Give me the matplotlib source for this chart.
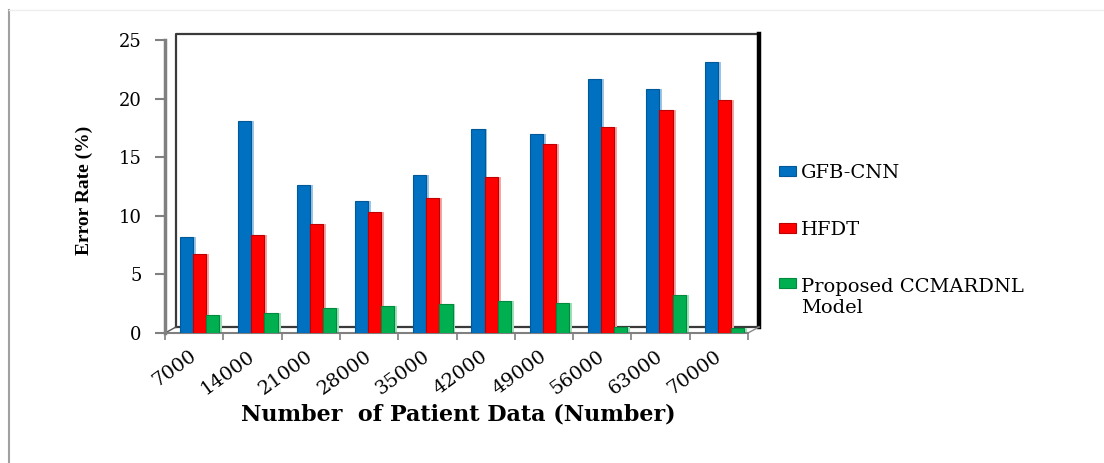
import numpy as np
import matplotlib
matplotlib.use("Agg")
import matplotlib.pyplot as plt
from matplotlib.transforms import ScaledTranslation
from matplotlib.lines import Line2D

categories = ["7000", "14000", "21000", "28000", "35000",
              "42000", "49000", "56000", "63000", "70000"]
series_names = ["GFB-CNN", "HFDT", "Proposed CCMARDNL\nModel"]
gfb_cnn = [8.2, 18.1, 12.6, 11.3, 13.5, 17.4, 17.0, 21.7, 20.8, 23.1]
hfdt = [6.7, 8.4, 9.3, 10.3, 11.5, 13.3, 16.1, 17.6, 19.0, 19.9]
proposed = [1.5, 1.7, 2.1, 2.3, 2.5, 2.75, 2.6, 0.5, 3.2, 0.45]
yticks = [0, 5, 10, 15, 20, 25]

colors = ["#0070C0", "#FF0000", "#00B050"]
edges = ["#005A9A", "#C00000", "#008A3E"]
shadow = ["#9DC3E6", "#F4A6A6", "#9FE0B8"]

WIDE = ["DejaVu Serif"]
NARROW = ["Liberation Serif", "DejaVu Serif"]
plt.rcParams["font.family"] = WIDE

W, H = 1104, 463
fig = plt.figure(figsize=(W / 100, H / 100), dpi=100)
ax_l, ax_r, ax_t, ax_b = 165, 748, 40, 333
ax = fig.add_axes([ax_l / W, 1 - ax_b / H, (ax_r - ax_l) / W, (ax_b - ax_t) / H])

x = np.arange(len(categories))
width = 0.225
offsets = [-0.131, 0.094, 0.319]
for vals, off, c, e, s, name in zip([gfb_cnn, hfdt, proposed], offsets, colors, edges, shadow, series_names):
    # light side face for pseudo-3D look
    ax.bar(x + off + 0.05, vals, width, color=s, zorder=2, linewidth=0)
    ax.bar(x + off, vals, width, color=c, edgecolor=e, linewidth=0.8, zorder=3, label=name)

ax.set_xlim(-0.5, len(categories) - 0.5)
ax.set_ylim(0, 25)

# back wall (shifted up/right) in black
dx, dy = 11 / 100, 6 / 100
back = ax.transAxes + ScaledTranslation(dx, dy, fig.dpi_scale_trans)
ax.add_line(Line2D([0, 0, 1], [0, 1, 1], transform=back, color="#3a3a3a", lw=1.6, zorder=1, clip_on=False))
ax.add_line(Line2D([1, 1], [0, 1], transform=back, color="black", lw=3.2, zorder=1, clip_on=False))
ax.add_line(Line2D([0, 1], [0, 0], transform=back, color="#3a3a3a", lw=1.6, zorder=1, clip_on=False))
# floor edges connecting front and back
ax.add_line(Line2D([0, dx * 100 / (ax_r - ax_l)], [0, dy * 100 / (ax_b - ax_t)], transform=ax.transAxes,
                   color="#555555", lw=1.0, clip_on=False))
ax.add_line(Line2D([1, 1 + dx * 100 / (ax_r - ax_l)], [0, dy * 100 / (ax_b - ax_t)], transform=ax.transAxes,
                   color="#888888", lw=1.0, clip_on=False))

for side in ["top", "right"]:
    ax.spines[side].set_visible(False)
ax.spines["left"].set_color("#808080")
ax.spines["left"].set_linewidth(2.5)
ax.spines["bottom"].set_color("#808080")
ax.spines["bottom"].set_linewidth(1.5)

ax.set_yticks(yticks)
ax.set_yticklabels([str(v) for v in yticks], fontsize=13)
ax.tick_params(axis="y", direction="out", length=7, width=1.5, color="#808080", pad=10)

ax.set_xticks(x)
ax.set_xticklabels(categories, rotation=36, ha="right", va="top", rotation_mode="anchor", fontsize=14)
ax.tick_params(axis="x", which="major", length=0, pad=10)
shift = ScaledTranslation(-5 / 100, 0, fig.dpi_scale_trans)
for lbl in ax.get_xticklabels():
    lbl.set_transform(lbl.get_transform() + shift)
ax.set_xticks(np.arange(-0.5, len(categories)), minor=True)
ax.tick_params(axis="x", which="minor", direction="out", length=5, width=1.2, color="#808080")

fig.text(84 / W, 1 - 190 / H, "Error Rate (%)", rotation=90, ha="center", va="center",
         fontsize=14, fontweight="bold", family=NARROW)
fig.text(458 / W, 1 - 414 / H, "Number  of Patient Data (Number)", ha="center", va="center",
         fontsize=16, fontweight="bold")

leg = ax.legend(loc="upper left", bbox_to_anchor=(779 / W, 1 - 164 / H), bbox_transform=fig.transFigure,
                frameon=False, fontsize=14, handlelength=0.85, handleheight=0.42, handletextpad=0.3,
                labelspacing=2.0, borderaxespad=0, borderpad=0)
# align the handle of the two-line entry with its first line
h3 = leg.legend_handles[2]
h3.set_y(h3.get_y() + 10.5)

# page border lines
fig.add_artist(Line2D([9 / W, 9 / W], [0, 1 - 10 / H], transform=fig.transFigure, color="#a0a0a0", lw=1.5))
fig.add_artist(Line2D([9 / W, 1], [1 - 10 / H, 1 - 10 / H], transform=fig.transFigure, color="#eeeeee", lw=1))

fig.savefig("out.png", dpi=100)
